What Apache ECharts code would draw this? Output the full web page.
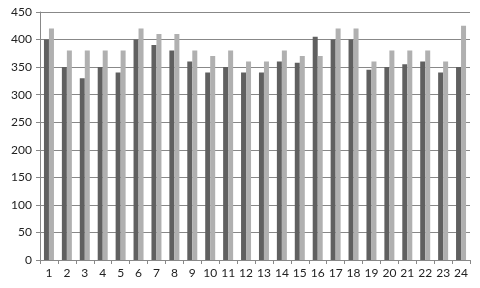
<!DOCTYPE html>
<html><head><meta charset="utf-8">
<script src="https://cdn.jsdelivr.net/npm/echarts@6/dist/echarts.min.js"></script>
<style>html,body{margin:0;padding:0;background:#fff}#c{width:480px;height:288px}</style>
</head><body><div id="c"></div>
<script>
const categories = ['1','2','3','4','5','6','7','8','9','10','11','12','13','14','15','16','17','18','19','20','21','22','23','24'];
const seriesA = [400,350,330,350,340,400,390,380,360,340,350,340,340,360,358,405,400,400,345,350,355,360,340,350];
const seriesB = [420,380,380,380,380,420,410,410,380,370,380,360,360,380,370,370,420,420,360,380,380,380,360,425];
const yTicks = {min:0, max:450, interval:50};

const chart = echarts.init(document.getElementById('c'));
chart.setOption({
  animation:false,
  grid:{left:40, right:10, top:12, bottom:28, containLabel:false},
  xAxis:{type:'category', data:categories,
    axisLine:{lineStyle:{color:'#888'}},
    axisTick:{show:true, alignWithLabel:false, interval:0, length:4, lineStyle:{color:'#888'}},
    axisLabel:{color:'#222', fontFamily:'Lato', fontSize:12, margin:7, interval:0}},
  yAxis:{type:'value', min:yTicks.min, max:yTicks.max, interval:yTicks.interval,
    axisLine:{show:true, lineStyle:{color:'#888'}},
    axisTick:{show:true, length:4, lineStyle:{color:'#888'}},
    splitLine:{lineStyle:{color:'#888', width:1}},
    axisLabel:{color:'#222', fontFamily:'Lato', fontSize:12, margin:8}},
  series:[
    {type:'bar', data:seriesA, barWidth:5, barGap:'0%', itemStyle:{color:'#606060'}},
    {type:'bar', data:seriesB, barWidth:5, barGap:'0%', itemStyle:{color:'#b0b0b0'}}
  ]
});
</script></body></html>
